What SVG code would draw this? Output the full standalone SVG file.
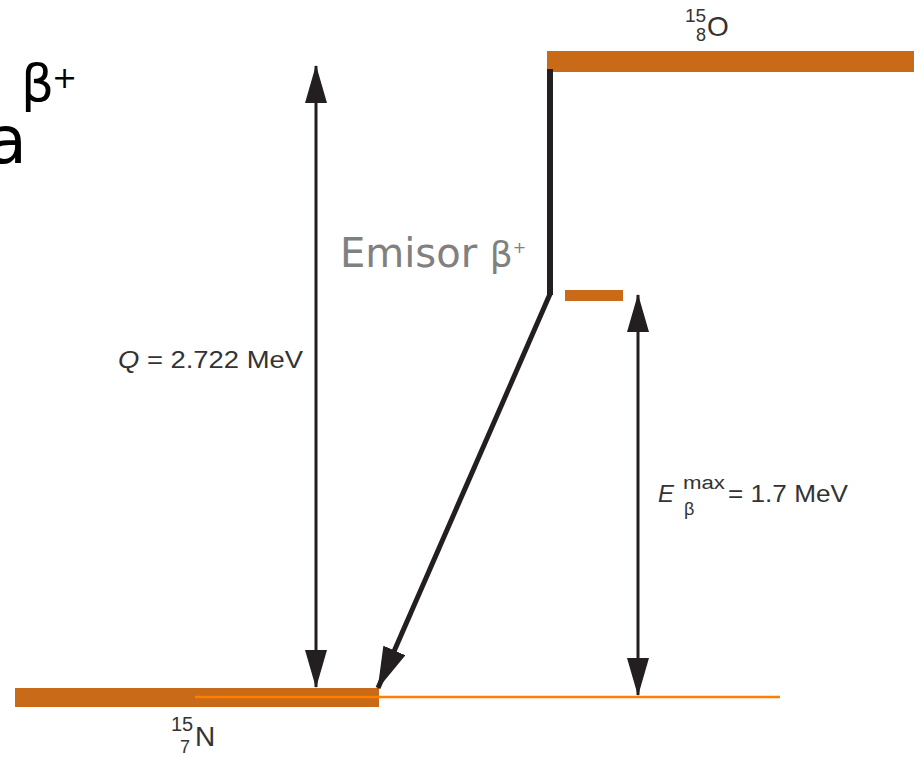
<svg xmlns="http://www.w3.org/2000/svg" width="914" height="757" viewBox="0 0 914 757">
<style>
.lvl{fill:#C86A18}
.thin{stroke:#FF7F00;stroke-width:2.5;fill:none}
.arr{stroke:#231F20;stroke-width:3;fill:none}
.lab{font-family:"Liberation Sans",Arial,sans-serif;fill:#333}
.big{font-family:"DejaVu Sans",Verdana,sans-serif}
</style>
<defs>
<marker id="ah" markerUnits="userSpaceOnUse" markerWidth="38" markerHeight="22" viewBox="0 0 38 22" refX="37" refY="11" orient="auto-start-reverse">
<path d="M0,0 L38,11 L0,22 z" fill="#231F20"/>
</marker>
<marker id="ah2" markerUnits="userSpaceOnUse" markerWidth="42" markerHeight="24" viewBox="0 0 42 24" refX="41" refY="12" orient="auto">
<path d="M0,0 L42,12 L0,24 z" fill="#231F20"/>
</marker>
</defs>
<rect width="914" height="757" fill="#fff"/>
<g id="title">
<text class="big" x="-13" y="163" font-size="65" fill="#000">a</text>
<text class="big" x="21" y="101" font-size="52" fill="#000">β</text>
<text class="big" x="52" y="88" font-size="30" fill="#000">+</text>
</g>
<g id="O15">
<rect class="lvl" x="547" y="51" width="367" height="21"/>
<text class="lab" x="685" y="22" font-size="19">15</text>
<text class="lab" x="696" y="41" font-size="18">8</text>
<text class="lab" x="707" y="36" font-size="28">O</text>
</g>
<g id="excited">
<rect class="lvl" x="565" y="290" width="58" height="11"/>
</g>
<g id="N15">
<rect class="lvl" x="15" y="688" width="364" height="19"/>
<text class="lab" x="171" y="731" font-size="20">15</text>
<text class="lab" x="180" y="753" font-size="18">7</text>
<text class="lab" x="195" y="746" font-size="28">N</text>
</g>
<g id="emisor">
<text class="big" x="340" y="267" font-size="40" fill="#808080">Emisor <tspan font-size="36">β</tspan><tspan font-size="16" dy="-14">+</tspan></text>
</g>
<g id="connectors">
<line class="thin" x1="195" y1="697" x2="780" y2="697"/>
<line class="arr" x1="316" y1="66" x2="316" y2="687" marker-start="url(#ah)" marker-end="url(#ah)"/>
<line class="arr" x1="638" y1="295" x2="638" y2="695" marker-start="url(#ah)" marker-end="url(#ah)"/>
<rect x="547" y="69" width="6" height="226" fill="#231F20"/>
<line x1="550" y1="294" x2="378" y2="688" stroke="#231F20" stroke-width="5" marker-end="url(#ah2)"/>
</g>
<g id="labels">
<text class="lab" x="118" y="368" font-size="24" textLength="185" lengthAdjust="spacingAndGlyphs"><tspan font-style="italic">Q</tspan> = 2.722 MeV</text>
<text class="lab" x="658" y="502" font-size="24" font-style="italic">E</text>
<text class="lab" x="683" y="489" font-size="18" textLength="42" lengthAdjust="spacingAndGlyphs">max</text>
<text class="lab" x="684" y="515" font-size="18">β</text>
<text class="lab" x="728" y="502" font-size="24" textLength="120" lengthAdjust="spacingAndGlyphs">= 1.7 MeV</text>
</g>
</svg>
